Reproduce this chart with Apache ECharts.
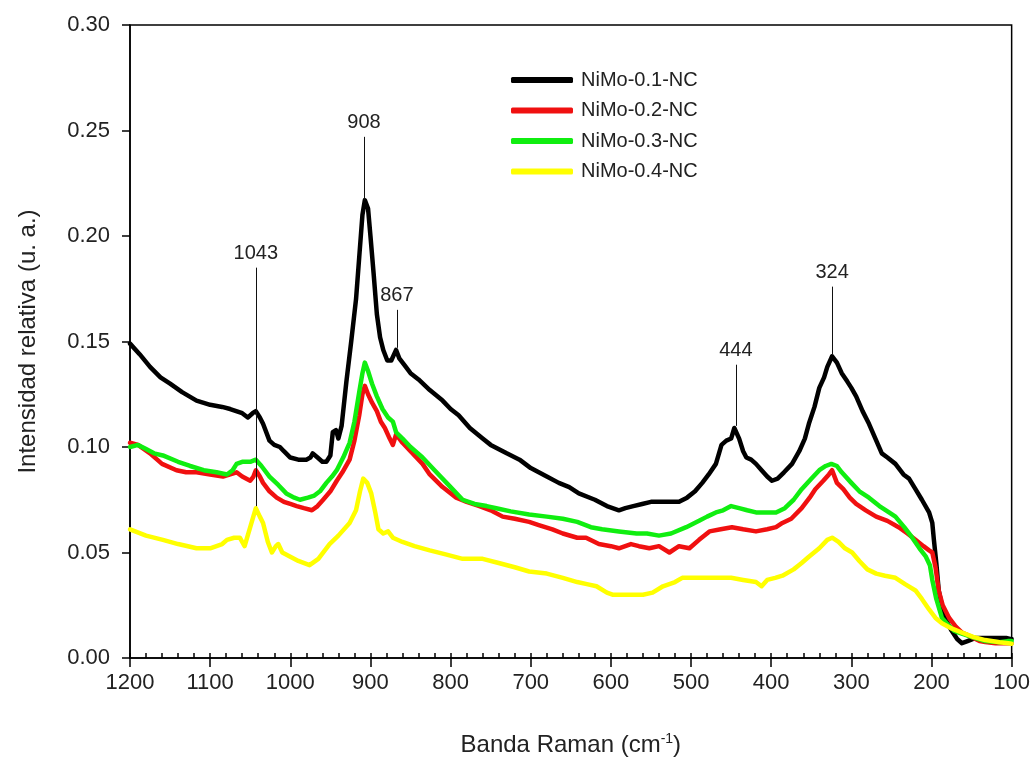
<!DOCTYPE html>
<html>
<head>
<meta charset="utf-8">
<script src="https://cdn.jsdelivr.net/npm/echarts@6/dist/echarts.min.js"></script>
<style>
  html, body { margin: 0; padding: 0; background: #ffffff; }
  #chart { width: 1033px; height: 767px; }
</style>
</head>
<body>
<div id="chart"></div>
<script>
// ---- Data (Raman shift cm^-1, relative intensity) ----
const seriesNames = ['NiMo-0.1-NC', 'NiMo-0.2-NC', 'NiMo-0.3-NC', 'NiMo-0.4-NC'];
const seriesColors = ['#000000', '#f01010', '#10ee10', '#ffff00'];

const nimo01 = [[1200,0.149],[1188,0.144],[1175,0.138],[1162,0.133],[1150,0.130],[1135,0.126],[1117,0.122],[1100,0.120],[1085,0.119],[1075,0.118],[1060,0.116],[1053,0.114],[1047,0.116],[1043,0.117],[1038,0.114],[1034,0.111],[1026,0.103],[1020,0.101],[1013,0.100],[1008,0.098],[1000,0.095],[990,0.094],[980,0.094],[975,0.095],[972,0.097],[966,0.095],[960,0.093],[955,0.093],[950,0.096],[947,0.107],[943,0.108],[940,0.104],[936,0.110],[930,0.131],[924,0.150],[918,0.170],[914,0.190],[910,0.210],[907,0.217],[903,0.213],[900,0.200],[896,0.182],[892,0.163],[888,0.152],[884,0.146],[879,0.141],[874,0.141],[868,0.146],[864,0.142],[858,0.139],[850,0.135],[840,0.132],[826,0.127],[810,0.122],[800,0.118],[790,0.115],[776,0.109],[760,0.104],[750,0.101],[730,0.097],[714,0.094],[700,0.090],[680,0.086],[665,0.083],[652,0.081],[640,0.078],[620,0.075],[605,0.072],[590,0.070],[582,0.071],[572,0.072],[561,0.073],[550,0.074],[540,0.074],[528,0.074],[515,0.074],[505,0.076],[495,0.079],[486,0.083],[478,0.087],[469,0.092],[462,0.101],[456,0.103],[450,0.104],[446,0.109],[440,0.104],[435,0.098],[431,0.095],[425,0.094],[419,0.092],[412,0.089],[405,0.086],[399,0.084],[392,0.085],[384,0.088],[374,0.092],[365,0.098],[358,0.104],[353,0.111],[346,0.119],[340,0.128],[334,0.133],[330,0.138],[324,0.143],[318,0.140],[312,0.135],[305,0.131],[300,0.128],[294,0.124],[286,0.117],[278,0.111],[270,0.104],[262,0.097],[255,0.095],[245,0.092],[235,0.087],[228,0.085],[220,0.080],[212,0.075],[203,0.069],[199,0.064],[197,0.056],[194,0.045],[191,0.032],[186,0.023],[182,0.018],[175,0.013],[168,0.009],[162,0.007],[155,0.008],[145,0.0095],[130,0.0095],[115,0.0095],[107,0.0095],[102,0.009],[100,0.009]];

const nimo02 = [[1200,0.102],[1190,0.101],[1175,0.097],[1160,0.092],[1142,0.089],[1130,0.088],[1117,0.088],[1100,0.087],[1084,0.086],[1075,0.087],[1067,0.088],[1060,0.086],[1050,0.084],[1046,0.086],[1043,0.089],[1038,0.086],[1034,0.083],[1026,0.079],[1017,0.076],[1008,0.074],[1000,0.073],[992,0.072],[983,0.071],[973,0.070],[966,0.072],[959,0.075],[950,0.079],[942,0.084],[935,0.088],[926,0.094],[920,0.103],[914,0.115],[910,0.125],[907,0.129],[903,0.125],[898,0.121],[892,0.117],[887,0.112],[882,0.109],[876,0.104],[872,0.101],[868,0.106],[864,0.104],[860,0.102],[850,0.098],[835,0.092],[826,0.087],[810,0.081],[793,0.076],[780,0.074],[764,0.072],[750,0.070],[735,0.067],[720,0.066],[702,0.0645],[690,0.063],[673,0.061],[660,0.059],[642,0.057],[631,0.057],[615,0.054],[600,0.053],[590,0.052],[575,0.054],[565,0.053],[552,0.052],[540,0.053],[527,0.050],[515,0.053],[502,0.052],[490,0.056],[477,0.060],[463,0.061],[449,0.062],[435,0.061],[419,0.060],[405,0.061],[394,0.062],[386,0.064],[375,0.066],[362,0.071],[352,0.076],[345,0.080],[335,0.084],[328,0.087],[324,0.089],[318,0.083],[310,0.080],[302,0.076],[294,0.073],[282,0.070],[269,0.067],[255,0.065],[241,0.062],[230,0.059],[220,0.056],[210,0.053],[203,0.051],[199,0.050],[195,0.043],[191,0.032],[186,0.025],[178,0.019],[170,0.015],[162,0.012],[150,0.010],[140,0.008],[133,0.0076],[120,0.007],[100,0.007]];

const nimo03 = [[1200,0.100],[1190,0.101],[1180,0.099],[1170,0.097],[1159,0.096],[1140,0.093],[1125,0.091],[1108,0.089],[1092,0.088],[1079,0.087],[1072,0.089],[1067,0.092],[1060,0.093],[1050,0.093],[1043,0.094],[1036,0.091],[1026,0.086],[1015,0.082],[1005,0.078],[995,0.076],[988,0.075],[978,0.076],[970,0.077],[963,0.079],[955,0.083],[948,0.086],[942,0.089],[934,0.095],[926,0.102],[920,0.112],[914,0.126],[910,0.135],[907,0.140],[903,0.136],[898,0.130],[892,0.124],[885,0.118],[878,0.114],[872,0.112],[868,0.107],[860,0.104],[850,0.100],[835,0.095],[820,0.089],[800,0.081],[785,0.075],[770,0.073],[755,0.072],[743,0.071],[725,0.0695],[702,0.068],[680,0.067],[660,0.066],[642,0.0645],[625,0.062],[611,0.061],[590,0.060],[568,0.059],[555,0.059],[540,0.058],[525,0.059],[506,0.062],[490,0.065],[480,0.067],[469,0.069],[460,0.070],[450,0.072],[440,0.071],[430,0.070],[419,0.069],[405,0.069],[394,0.069],[383,0.071],[372,0.075],[362,0.080],[350,0.085],[340,0.089],[332,0.091],[325,0.092],[318,0.091],[312,0.088],[300,0.083],[290,0.079],[278,0.076],[265,0.072],[253,0.069],[245,0.067],[234,0.062],[224,0.057],[215,0.052],[207,0.048],[202,0.044],[199,0.037],[194,0.028],[187,0.019],[180,0.016],[172,0.013],[166,0.012],[150,0.010],[133,0.008],[115,0.0075],[105,0.008],[100,0.008]];

const nimo04 = [[1200,0.061],[1180,0.058],[1159,0.056],[1140,0.054],[1117,0.052],[1100,0.052],[1085,0.054],[1079,0.056],[1070,0.057],[1063,0.057],[1057,0.053],[1050,0.062],[1043,0.071],[1038,0.067],[1034,0.064],[1028,0.055],[1023,0.050],[1018,0.053],[1015,0.054],[1010,0.050],[1000,0.048],[990,0.046],[976,0.044],[965,0.047],[951,0.054],[940,0.058],[926,0.064],[918,0.070],[913,0.079],[909,0.085],[904,0.083],[899,0.078],[894,0.069],[890,0.061],[884,0.059],[878,0.060],[872,0.057],[860,0.055],[845,0.053],[826,0.051],[805,0.049],[785,0.047],[770,0.047],[760,0.047],[740,0.045],[720,0.043],[702,0.041],[680,0.040],[660,0.038],[642,0.036],[630,0.035],[618,0.034],[605,0.031],[598,0.030],[575,0.030],[560,0.030],[548,0.031],[535,0.034],[520,0.036],[511,0.038],[495,0.038],[480,0.038],[465,0.038],[450,0.038],[435,0.037],[419,0.036],[412,0.034],[405,0.037],[395,0.038],[386,0.039],[372,0.042],[362,0.045],[353,0.048],[340,0.052],[330,0.056],[324,0.057],[316,0.055],[308,0.052],[299,0.050],[290,0.046],[280,0.042],[269,0.040],[258,0.039],[245,0.038],[233,0.035],[220,0.032],[212,0.028],[203,0.023],[195,0.019],[187,0.0165],[175,0.014],[162,0.012],[148,0.010],[133,0.0085],[115,0.0075],[104,0.007],[100,0.0068]];

const seriesData = [nimo01, nimo02, nimo03, nimo04];

// Peak annotations: label, x position, top of leader line, bottom of leader line
const peakLabels = ['1043', '908', '867', '444', '324'];
const peakX      = [1043, 908, 867, 444, 324];
const peakTop    = [0.185, 0.247, 0.165, 0.139, 0.176];
const peakBottom = [0.069, 0.217, 0.147, 0.110, 0.144];

const FONT = 'Liberation Sans, Arial, Helvetica, sans-serif';
const GRID_TOP = 25, GRID_BOTTOM = 109, CHART_H = 767;
const GRID_H = CHART_H - GRID_TOP - GRID_BOTTOM;

const chart = echarts.init(document.getElementById('chart'), null, { renderer: 'canvas' });

const markLineData = peakLabels.map((t, i) => [
  { name: t, coord: [peakX[i], peakTop[i]] },
  { coord: [peakX[i], peakBottom[i]] }
]);

const series = seriesNames.map((name, i) => ({
  name: name,
  type: 'line',
  xAxisIndex: 0,
  yAxisIndex: 0,
  data: seriesData[i],
  showSymbol: false,
  symbol: 'none',
  smooth: false,
  lineStyle: { color: seriesColors[i], width: 4.5, join: 'round', cap: 'round' },
  itemStyle: { color: seriesColors[i] },
  animation: false,
  z: 2 + i
}));

// annotation leader lines, drawn above the curves
series.push({
  name: 'peaks',
  type: 'line',
  data: [],
  xAxisIndex: 0,
  yAxisIndex: 0,
  z: 10,
  animation: false,
  markLine: {
    silent: true,
    animation: false,
    symbol: ['none', 'none'],
    lineStyle: { color: '#111', width: 1, type: 'solid' },
    label: {
      show: true,
      position: 'start',
      distance: 4,
      formatter: '{b}',
      color: '#222',
      fontFamily: FONT,
      fontSize: 20
    },
    emphasis: { disabled: true },
    data: markLineData
  }
});

const option = {
  backgroundColor: '#ffffff',
  animation: false,
  grid: {
    left: 130, right: 20, top: GRID_TOP, bottom: GRID_BOTTOM,
    show: true, borderColor: '#000', borderWidth: 1.5, backgroundColor: 'transparent'
  },
  legend: {
    data: seriesNames,
    orient: 'vertical',
    left: 506,
    top: 65,
    itemWidth: 62,
    itemHeight: 6,
    itemGap: 10.5,
    icon: 'roundRect',
    textStyle: { fontFamily: FONT, fontSize: 20, color: '#222', padding: [0, 0, 0, 3] }
  },
  xAxis: [{
    type: 'value',
    min: 100, max: 1200, interval: 100,
    inverse: true,
    position: 'bottom',
    name: 'Banda Raman (cm{sup|-1})',
    nameLocation: 'middle',
    nameGap: 74,
    nameTextStyle: {
      fontFamily: FONT, fontSize: 24, color: '#222',
      rich: { sup: { fontFamily: FONT, fontSize: 14, color: '#222', verticalAlign: 'top', padding: [0, 0, 12, 0] } }
    },
    axisLine: { show: true, lineStyle: { color: '#000', width: 1.5 } },
    axisTick: { show: true, inside: false, length: 9, lineStyle: { color: '#000', width: 1.5 } },
    axisLabel: { fontFamily: FONT, fontSize: 22, color: '#222', margin: 14, formatter: v => String(v) },
    splitLine: { show: false }
  }, {
    // minor ticks pointing into the plot, placed on the bottom edge
    type: 'value',
    min: 100, max: 1200, interval: 20,
    inverse: true,
    position: 'top',
    offset: -GRID_H,
    axisLine: { show: false },
    axisTick: { show: true, inside: false, length: 5, lineStyle: { color: '#000', width: 1.5 } },
    axisLabel: { show: false },
    splitLine: { show: false }
  }],
  yAxis: [{
    type: 'value',
    min: 0, max: 0.30, interval: 0.05,
    name: 'Intensidad relativa (u. a.)',
    nameLocation: 'middle',
    nameGap: 90,
    nameTextStyle: { fontFamily: FONT, fontSize: 24, color: '#222' },
    axisLine: { show: true, lineStyle: { color: '#000', width: 1.5 } },
    axisTick: { show: true, inside: false, length: 8, lineStyle: { color: '#000', width: 1.5 } },
    axisLabel: {
      fontFamily: FONT, fontSize: 22, color: '#222', margin: 20,
      formatter: v => v.toFixed(2)
    },
    splitLine: { show: false }
  }],
  series: series
};

chart.setOption(option);
</script>
</body>
</html>
